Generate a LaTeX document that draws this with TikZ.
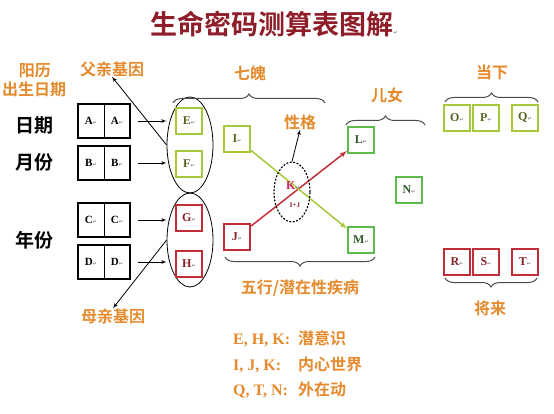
\documentclass[tikz,border=0pt]{standalone}
\usepackage{fontspec}
\setmainfont{Liberation Serif}
\newfontfamily\cjk{Noto Sans CJK SC}[BoldFont={Noto Sans CJK SC Bold}]
\newfontfamily\dejavu{DejaVu Sans}
\usetikzlibrary{shapes,arrows,positioning,calc,decorations.pathreplacing}

\definecolor{titlered}{HTML}{8E1F2A}
\definecolor{labor}{HTML}{E58A2C}
\definecolor{ygreen}{HTML}{A5C93A}
\definecolor{mgreen}{HTML}{5DBB4E}
\definecolor{boxred}{HTML}{C22E38}
\newcommand{\rmk}{{\dejavu\fontsize{5}{5}\selectfont\textcolor{gray}{↵}}}
\newcommand{\lkey}[1]{\makebox[65pt][l]{#1}}

\begin{document}
\begin{tikzpicture}[x=1pt,y=-1pt,>=latex',
  every node/.style={inner sep=0pt},
  lab/.style={font=\cjk\bfseries\fontsize{16}{16}\selectfont,text=labor},
  side/.style={font=\cjk\bfseries\fontsize{19}{19}\selectfont},
  half/.style={draw,line width=0.6pt,minimum width=26pt,minimum height=33pt,font=\bfseries\fontsize{11}{11}\selectfont},
  gbox/.style={draw=ygreen,line width=2pt,minimum size=26pt,text=ygreen!50!black,font=\bfseries\fontsize{12}{12}\selectfont},
  mbox/.style={gbox,draw=mgreen,text=mgreen!50!black},
  rbox/.style={gbox,draw=boxred,text=boxred!70!black},
  grp/.style={draw,ellipse,line width=0.8pt,minimum width=46pt},
  arr/.style={->,line width=0.8pt},
  brc/.style={decorate,decoration={brace,amplitude=9pt},line width=1pt,draw=gray!60!black},
  legend/.style={anchor=west,text=labor,font=\bfseries\fontsize{16}{16}\selectfont}]
  \useasboundingbox (0,0) rectangle (554,414);
  % title
  \node [font=\cjk\bfseries\fontsize{27}{27}\selectfont,text=titlered] (title) at (274,24) {生命密码测算表图解\rmk};
  % birthday column
  \node [lab] (yl) at (35,71) {阳历};
  \node [lab] (bday) at (34,89) {出生日期};
  \node [side] (day) at (35,125) {日期};
  \node [side] (mon) at (35,162) {月份};
  \node [side] (yr) at (35,240) {年份};
  \foreach \n/\y in {A/121,B/163,C/220,D/262} {
    \node [half] (\n1) at (91,\y) {\n\rmk};
    \node [half] (\n2) at (117,\y) {\n\rmk};
    \draw [line width=2pt] (\n1.north west) rectangle (\n2.south east);
  }
  % parents
  \node [grp,minimum height=96pt] (up) at (190,145) {};
  \node [grp,minimum height=94pt] (lo) at (190,240) {};
  \node [gbox] (E) at (189,121) {E\rmk};
  \node [gbox] (F) at (189,164) {F\rmk};
  \node [rbox] (G) at (189,218) {G\rmk};
  \node [rbox] (H) at (189,264) {H\rmk};
  \foreach \n/\g in {A/up,B/up,C/lo,D/lo}
    \draw [arr] ([xshift=8pt]\n2.east) -- (\n2 -| \g.west);
  \node [lab] (fa) at (112,69) {父亲基因};
  \node [lab] (mo) at (113,316) {母亲基因};
  \draw [arr] (up.west) -- (fa.south);
  \draw [arr] (lo.west) -- (mo.north);
  % middle part
  \node [gbox] (I) at (237,139) {I\rmk};
  \node [rbox] (J) at (237,237) {J\rmk};
  \node [mbox] (L) at (361,140) {L\rmk};
  \node [mbox] (M) at (361,240) {M\rmk};
  \node [mbox] (N) at (409,190) {N\rmk};
  \draw [->,line width=1.5pt,boxred] (J) -- (L);
  \draw [->,line width=1.5pt,ygreen] (I) -- (M);
  \node [draw,ellipse,dash pattern=on 2pt off 1.5pt,line width=1.1pt,minimum width=36pt,minimum height=60pt] (K) at (292,192) {};
  \node [text=boxred!80!magenta,font=\bfseries\fontsize{12}{12}\selectfont] (Kt) at (293,186) {K\rmk};
  \node [text=boxred!70!black,font=\bfseries\fontsize{7}{7}\selectfont] (Ks) at (295,205) {I+J};
  \node [lab] (xg) at (300,122) {性格};
  \draw [arr] (K.north) -- (xg.south);
  % now and future
  \node [gbox] (O) at (457,118) {O\rmk};
  \node [gbox] (P) at (486,118) {P\rmk};
  \node [gbox] (Q) at (525,118) {Q\rmk};
  \node [rbox] (R) at (457,262) {R\rmk};
  \node [rbox] (S) at (486,262) {S\rmk};
  \node [rbox] (T) at (525,262) {T\rmk};
  % braces
  \draw [brc] (173,103) -- (325,103);
  \node [lab] (qp) at (250,73) {七魄};
  \draw [brc] (346,125) -- (425,125);
  \node [lab] (en) at (387,95) {儿女};
  \draw [brc] (445,102) -- (538,102);
  \node [lab] (now) at (492,72) {当下};
  \draw [brc] (375,257) -- (225,257);
  \node [lab] (wx) at (300,288) {五行/潜在性疾病};
  \draw [brc] (537,278) -- (445,278);
  \node [lab] (fut) at (490,308) {将来};
  % legend
  \node [legend] (l1) at (233,339) {\lkey{E, H, K:}{\cjk 潜意识}};
  \node [legend] (l2) at (233,365) {\lkey{I, J, K:}{\cjk 内心世界}};
  \node [legend] (l3) at (233,390) {\lkey{Q, T, N:}{\cjk 外在动}};
\end{tikzpicture}
\end{document}
